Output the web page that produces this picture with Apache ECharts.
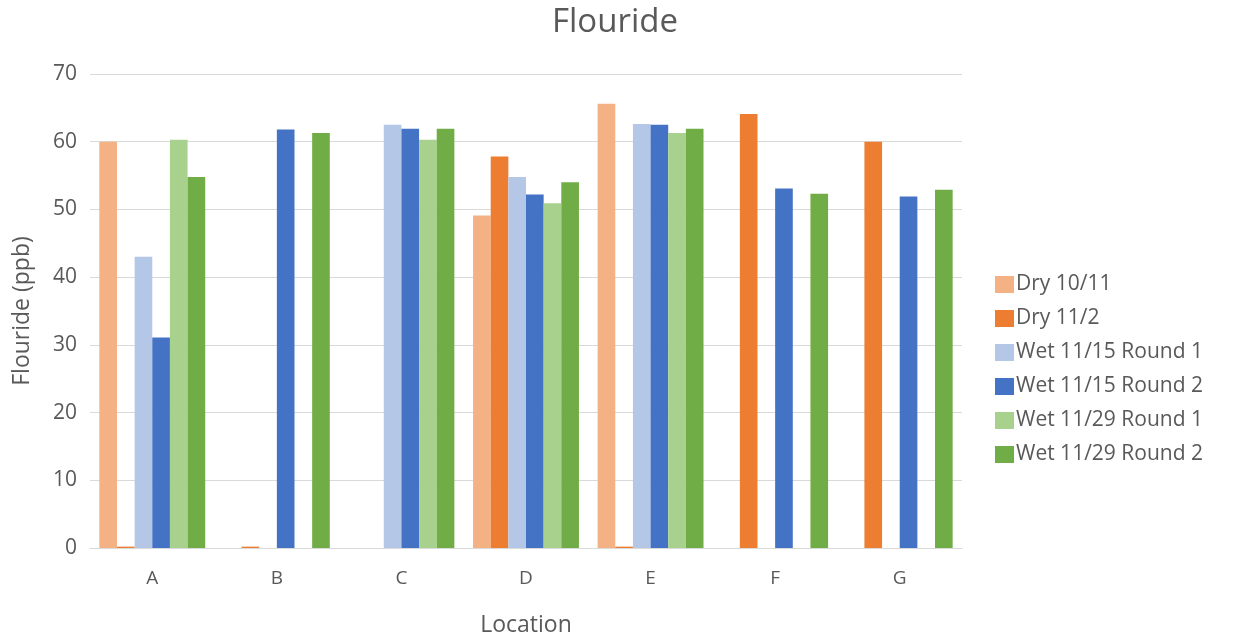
<!DOCTYPE html>
<html><head><meta charset="utf-8">
<script src="https://cdn.jsdelivr.net/npm/echarts@6/dist/echarts.min.js"></script>
<style>html,body{margin:0;padding:0;background:#fff}#c{width:1237px;height:644px}</style>
</head><body><div id="c"></div>
<script>
const categories = ['A','B','C','D','E','F','G'];
const seriesNames = ['Dry 10/11','Dry 11/2','Wet 11/15 Round 1','Wet 11/15 Round 2','Wet 11/29 Round 1','Wet 11/29 Round 2'];
const dry1011 = [60.0, null, null, 49.1, 65.6, null, null];
const dry112  = [0.2, 0.2, null, 57.8, 0.2, 64.1, 60.0];
const wet1115r1 = [43.0, null, 62.5, 54.8, 62.6, null, null];
const wet1115r2 = [31.1, 61.8, 61.9, 52.2, 62.5, 53.1, 51.9];
const wet1129r1 = [60.3, null, 60.3, 50.9, 61.3, null, null];
const wet1129r2 = [54.8, 61.3, 61.9, 54.0, 61.9, 52.3, 52.9];
const yTicks = [0,10,20,30,40,50,60,70];

const colors = ['#F4B183','#ED7D31','#B4C7E7','#4472C4','#A9D18E','#70AD47'];
const data = [dry1011, dry112, wet1115r1, wet1115r2, wet1129r1, wet1129r2];
const font = '"Open Sans", "Liberation Sans", sans-serif';
const chart = echarts.init(document.getElementById('c'));
chart.setOption({
  animation: false,
  color: colors,
  title: { text: 'Flouride', left: 610, top: 1, textAlign: 'center',
    textStyle: { fontFamily: font, fontSize: 33, fontWeight: 'normal', color: '#595959' } },
  grid: { left: 90, right: 275, top: 74, bottom: 96 },
  legend: {
    orient: 'vertical', left: 990, top: 269, itemWidth: 19, itemHeight: 17, itemGap: 13,
    icon: 'rect',
    textStyle: { fontFamily: font, fontSize: 21, color: '#595959', lineHeight: 17, padding: [0,0,0,-3] },
    data: seriesNames
  },
  xAxis: {
    type: 'category', data: categories,
    name: 'Location', nameLocation: 'middle', nameGap: 66,
    nameTextStyle: { fontFamily: font, fontSize: 23, color: '#595959' },
    axisLine: { lineStyle: { color: '#d9d9d9' } }, axisTick: { show: false },
    axisLabel: { fontFamily: font, fontSize: 19, color: '#595959', margin: 21 }
  },
  yAxis: {
    type: 'value', min: 0, max: 70, interval: 10,
    name: 'Flouride (ppb)', nameLocation: 'middle', nameGap: 56,
    nameTextStyle: { fontFamily: font, fontSize: 23, color: '#595959' },
    axisLine: { show: false }, axisTick: { show: false },
    axisLabel: { fontFamily: font, fontSize: 21, color: '#595959', margin: 13,
      formatter: v => yTicks.includes(v) ? String(v) : '' },
    splitLine: { lineStyle: { color: '#d9d9d9', width: 1 } }
  },
  series: seriesNames.map((n, i) => ({
    name: n, type: 'bar', data: data[i], barGap: '0%', barCategoryGap: '15%',
    itemStyle: { color: colors[i] }
  }))
});
</script></body></html>
